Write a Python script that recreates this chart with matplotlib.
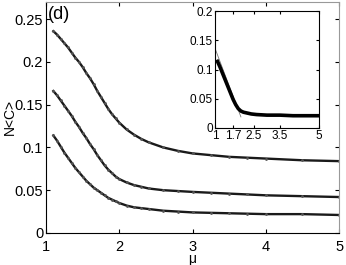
import matplotlib
matplotlib.use("Agg")
import matplotlib.pyplot as plt

plt.rcParams['font.family'] = ['Liberation Sans', 'DejaVu Sans']

# main panel: N<C> vs mu, three curves
mu = [1.10, 1.15, 1.20, 1.25, 1.30, 1.35, 1.40, 1.45, 1.50, 1.55,
      1.60, 1.65, 1.70, 1.75, 1.80, 1.85, 1.90, 1.95, 2.00, 2.1,
      2.2, 2.3, 2.4, 2.6, 2.8, 3.0, 3.25, 3.5, 3.75, 4.0, 4.5, 5.0]
nc_top = [0.236, 0.232, 0.227, 0.222, 0.217, 0.211, 0.205, 0.200, 0.194, 0.187,
          0.181, 0.174, 0.166, 0.159, 0.152, 0.145, 0.139, 0.134, 0.129, 0.121,
          0.115, 0.110, 0.106, 0.100, 0.096, 0.093, 0.091, 0.089, 0.088, 0.087, 0.085, 0.084]
nc_mid = [0.166, 0.161, 0.155, 0.149, 0.143, 0.137, 0.130, 0.124, 0.117, 0.111,
          0.104, 0.098, 0.091, 0.085, 0.079, 0.074, 0.070, 0.066, 0.063, 0.059,
          0.056, 0.054, 0.052, 0.050, 0.049, 0.048, 0.047, 0.046, 0.045, 0.044, 0.043, 0.042]
nc_bot = [0.114, 0.108, 0.101, 0.094, 0.088, 0.082, 0.076, 0.071, 0.066, 0.061,
          0.057, 0.053, 0.050, 0.047, 0.044, 0.041, 0.039, 0.037, 0.035, 0.032,
          0.030, 0.029, 0.028, 0.026, 0.025, 0.024, 0.0235, 0.023, 0.0225, 0.022, 0.022, 0.021]

# inset curve and its straight fit line
mu_in = [1.1, 1.2, 1.3, 1.4, 1.5, 1.6, 1.7, 1.8, 1.9, 2.0, 2.1, 2.2, 2.4, 2.6, 3.0, 3.5, 4.0, 5.0]
nc_in = [0.114, 0.104, 0.093, 0.082, 0.071, 0.060, 0.049, 0.040, 0.033, 0.029,
         0.027, 0.026, 0.024, 0.023, 0.022, 0.022, 0.021, 0.021]
fit_x = [1.0, 2.0]
fit_y = [0.137, 0.019]

main_yticks = [0, 0.05, 0.1, 0.15, 0.2, 0.25]
main_ylabels = ['0', '0.05', '0.1', '0.15', '0.2', '0.25']
main_xticks = [1, 2, 3, 4, 5]
inset_xticks = [1, 1.7, 2.5, 3.5, 5]
inset_xlabels = ['1', '1.7', '2.5', '3.5', '5']
inset_yticks = [0, 0.05, 0.1, 0.15, 0.2]
inset_ylabels = ['0', '0.05', '0.1', '0.15', '0.2']

fig = plt.figure(figsize=(3.46, 2.65), dpi=100)
ax = fig.add_axes([0.133, 0.121, 0.847, 0.871])

for ys in (nc_top, nc_mid, nc_bot):
    ax.plot(mu, ys, color='#1a1a1a', lw=1.7, marker='.', ms=2, mfc='#555555', mec='#555555')

ax.set_xlim(1, 5)
ax.set_ylim(0, 0.27)
ax.set_xticks(main_xticks)
ax.set_yticks(main_yticks)
ax.set_yticklabels(main_ylabels)
ax.tick_params(direction='in', length=3, labelsize=10.5, top=True, right=True, pad=2)
ax.tick_params(axis='x', pad=5)
ax.spines['top'].set_color('#999999')
ax.spines['right'].set_color('#999999')
ax.set_xlabel('μ', fontsize=10, labelpad=-1)
fig.text(10 / 346, 1 - 117 / 265, 'N<C>', rotation=90, fontsize=10,
         ha='center', va='center')
ax.text(0.005, 0.985, '(d)', transform=ax.transAxes, fontsize=13, va='top', ha='left')

ins = fig.add_axes([0.621, 0.517, 0.301, 0.441])
ins.plot(fit_x, fit_y, color='#777777', lw=0.6)
ins.plot(mu_in, nc_in, color='black', lw=2.6)
ins.set_xlim(1, 5)
ins.set_ylim(0, 0.2)
ins.set_xticks(inset_xticks)
ins.set_xticklabels(inset_xlabels)
ins.set_yticks(inset_yticks)
ins.set_yticklabels(inset_ylabels)
ins.tick_params(direction='in', length=2, labelsize=8.5, top=True, right=True, pad=1.5)

fig.savefig('out.png', dpi=100)
